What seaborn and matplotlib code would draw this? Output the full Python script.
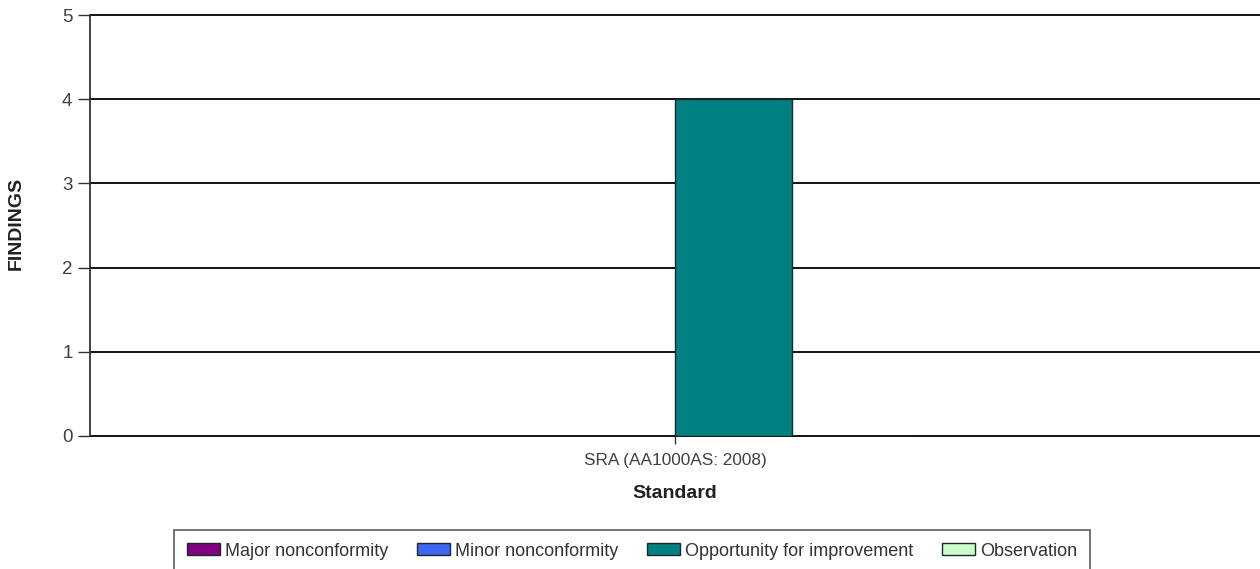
import pandas as pd
import matplotlib.pyplot as plt
import seaborn as sns

# =====================================================
# DATA
# =====================================================

standards = ["SRA (AA1000AS: 2008)"]

finding_types = [
    "Major nonconformity",
    "Minor nonconformity",
    "Opportunity for improvement",
    "Observation"
]

finding_counts = [0, 0, 4, 0]

type_colors = ["#800080", "#3F66F0", "#008080", "#CCFFCC"]

df = pd.DataFrame({
    "Standard": standards * len(finding_types),
    "Type": finding_types,
    "Findings": finding_counts
})

# =====================================================
# PLOT
# =====================================================

sns.set_style("white")
plt.rcParams["font.family"] = ["Liberation Sans", "DejaVu Sans"]

fig = plt.figure(figsize=(12.6, 5.69), dpi=100)
ax = fig.add_axes([90 / 1260, 1 - 436 / 569, 1 - 90 / 1260, (436 - 15) / 569])

sns.barplot(
    data=df,
    x="Standard",
    y="Findings",
    hue="Type",
    hue_order=finding_types,
    palette=type_colors,
    width=0.4,
    edgecolor="#1a2a2a",
    linewidth=1,
    saturation=1,
    legend=True,
    ax=ax,
    zorder=3
)

ax.set_ylim(0, 5)
ax.set_xlim(-0.5, 0.5)
ax.set_yticks(range(0, 6))

ax.yaxis.grid(True, color="black", linewidth=1.3, zorder=0)
for gl in ax.get_ygridlines():
    gl.set_clip_on(False)
ax.set_axisbelow(True)

for side in ["top", "right", "bottom"]:
    ax.spines[side].set_visible(False)
ax.spines["left"].set_color("#333333")
ax.spines["left"].set_linewidth(1.3)

ax.tick_params(axis="y", left=True, length=8.6, width=1, color="#333333",
               labelsize=13.5, labelcolor="#404040", pad=4)
ax.tick_params(axis="x", bottom=True, length=6, width=1, color="#333333",
               labelsize=12.4, labelcolor="#404040", pad=6.5)

ax.set_ylabel("FINDINGS", fontsize=14, fontweight="bold", color="#222222")
ax.yaxis.set_label_coords(-0.0556, 0.505)
ax.set_xlabel("Standard", fontsize=14, fontweight="bold", color="#222222", labelpad=12)

ax.get_legend().remove()
handles, labels = ax.get_legend_handles_labels()
leg = fig.legend(
    handles[:4],
    labels[:4],
    loc="upper center",
    bbox_to_anchor=(0.5016, 1 - 530 / 569),
    ncol=4,
    frameon=True,
    fancybox=False,
    edgecolor="#333333",
    fontsize=13,
    handlelength=1.83,
    handleheight=0.67,
    handletextpad=0.28,
    columnspacing=1.6,
    borderpad=0.7,
    borderaxespad=0
)
leg.get_frame().set_linewidth(1.2)
for t in leg.get_texts():
    t.set_color("#333333")

fig.savefig("out.png", dpi=100)
